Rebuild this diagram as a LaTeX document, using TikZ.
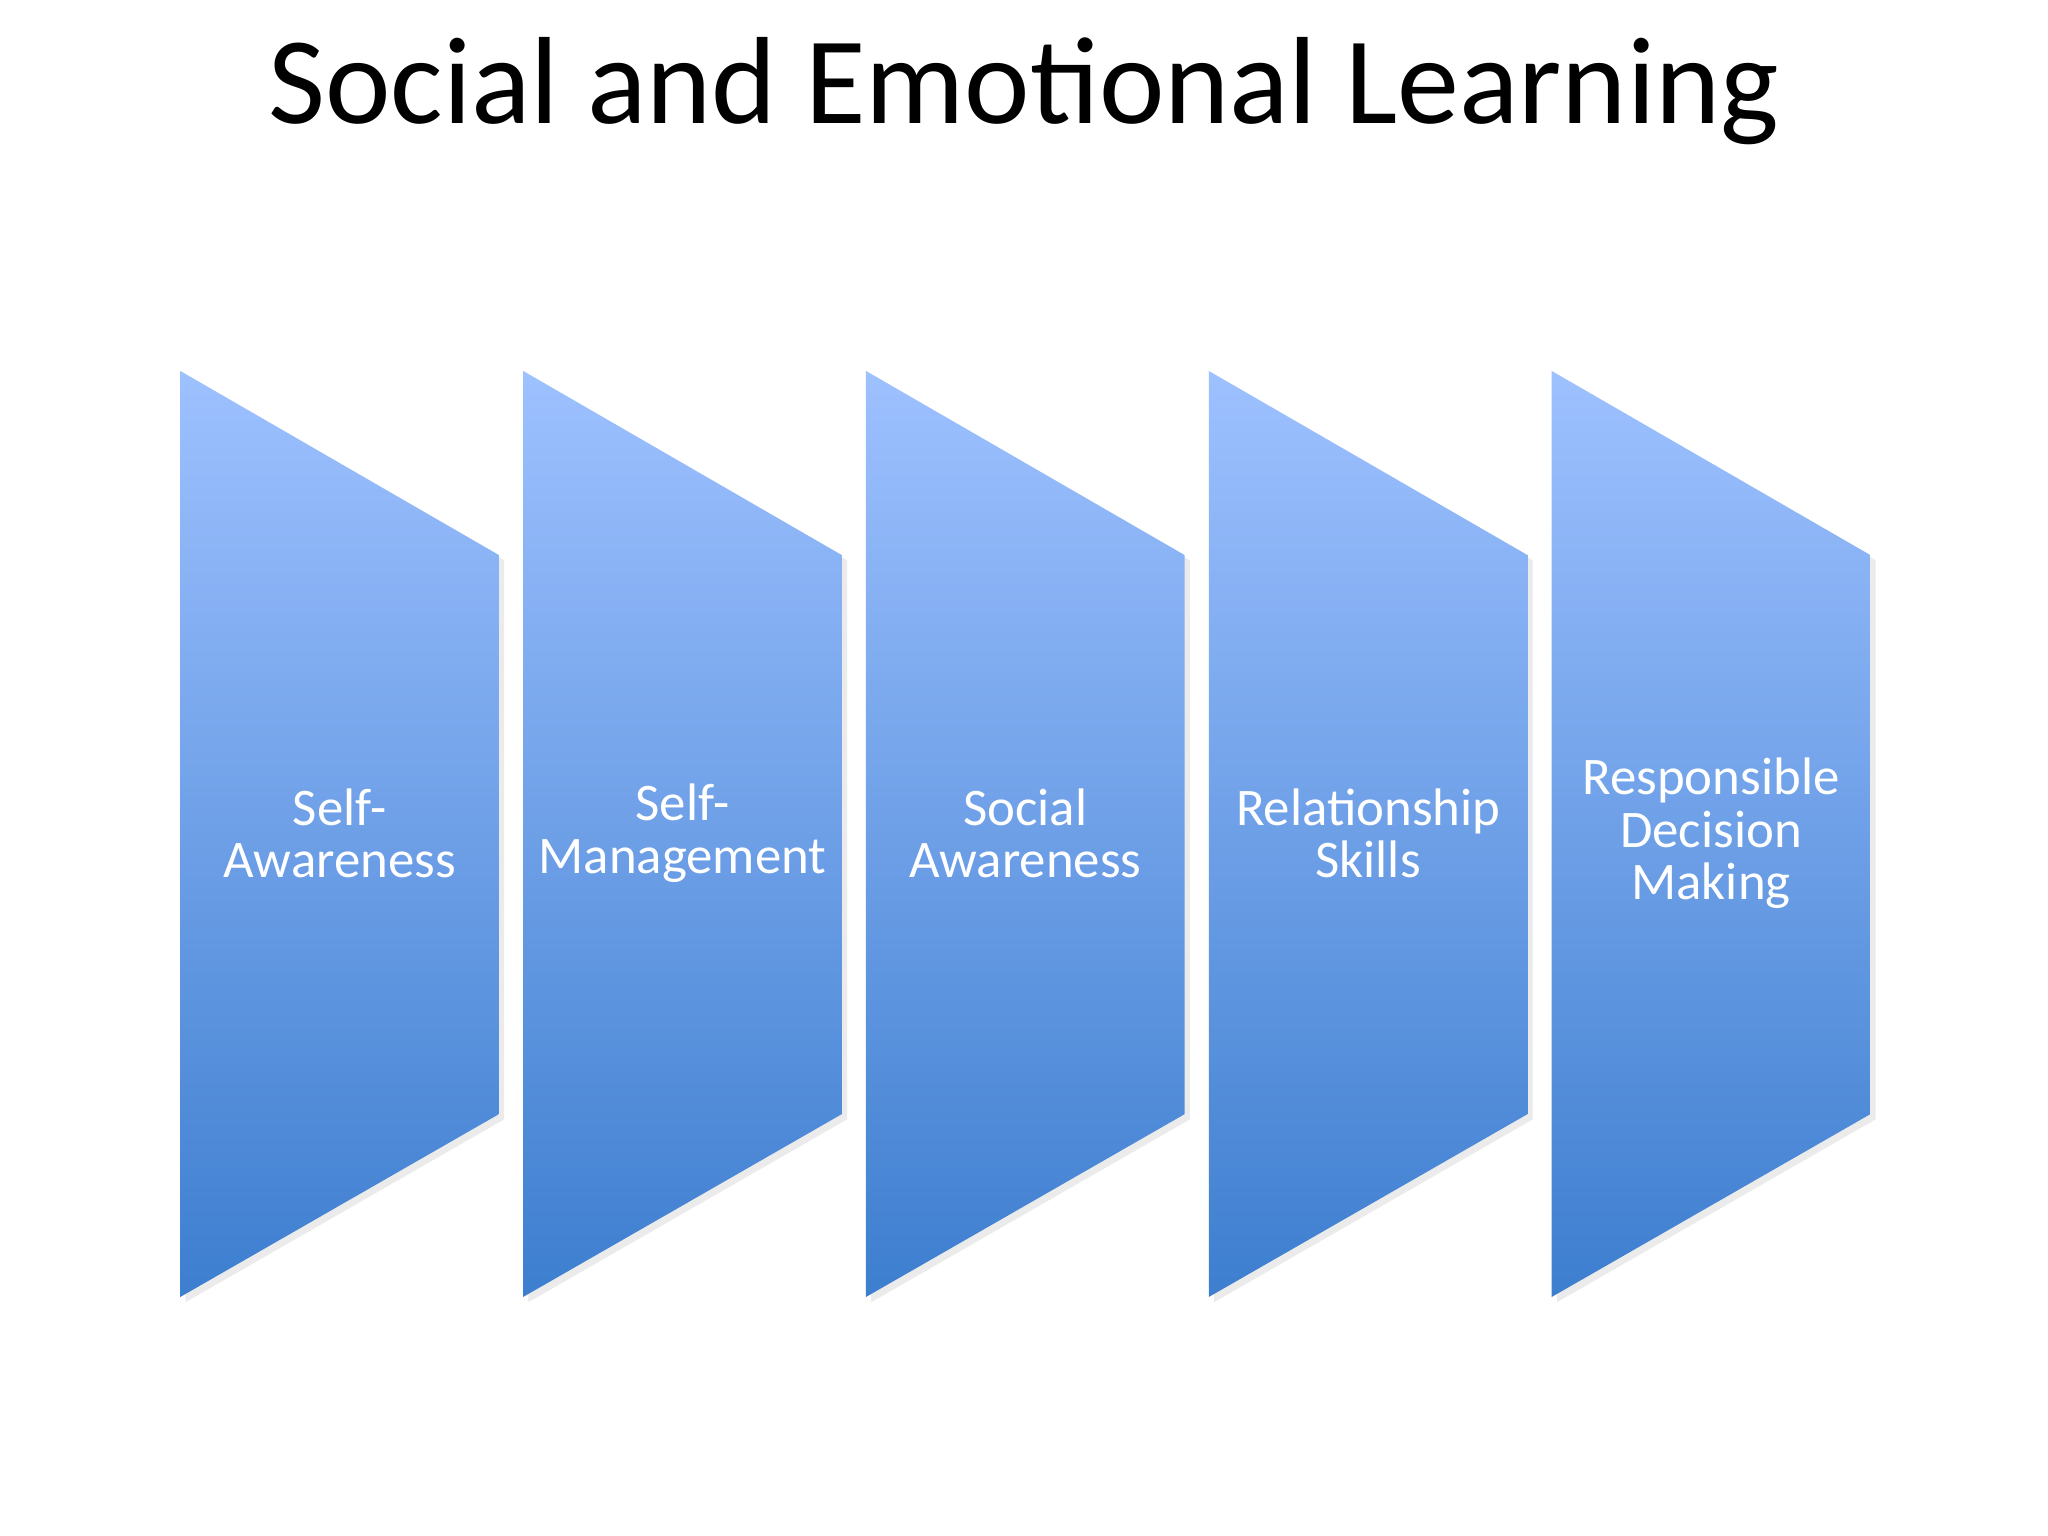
\documentclass[tikz,border=0pt]{standalone}
\usepackage{fontspec}
\setmainfont{Carlito}
\begin{document}
\begin{tikzpicture}[x=0.01cm,y=-0.01cm,
  chev/.style={top color=myTop,bottom color=myBot,draw=none},
  lbl/.style={text=white,align=center,font=\fontsize{11.5pt}{11.4pt}\selectfont}]
\definecolor{myTop}{HTML}{9EC1FF}
\definecolor{myBot}{HTML}{3D7ECF}
\useasboundingbox[fill=white] (0,0) rectangle (1568,1176);
\node[font=\fontsize{27pt}{30pt}\selectfont] (title) at (784,70) {Social and Emotional Learning};
\foreach \i/\t [count=\k] in {0/{Self-\\Awareness},1/{Self-\\Management},2/{Social\\Awareness},3/{Relationship\\Skills},4/{Responsible\\Decision\\Making}}{
  \pgfmathsetmacro{\xa}{138+262.5*\i}
  \pgfmathsetmacro{\xb}{\xa+244}
  \fill[black!8] (\xa+4,288) -- (\xb+4,429) -- (\xb+4,857) -- (\xa+4,997) -- cycle;
  \shade[chev] (\xa,284) -- (\xb,425) -- (\xb,853) -- (\xa,993) -- cycle;
  \node[lbl] (n\k) at (\xa+122,638) {\t};
}
\end{tikzpicture}
\end{document}
